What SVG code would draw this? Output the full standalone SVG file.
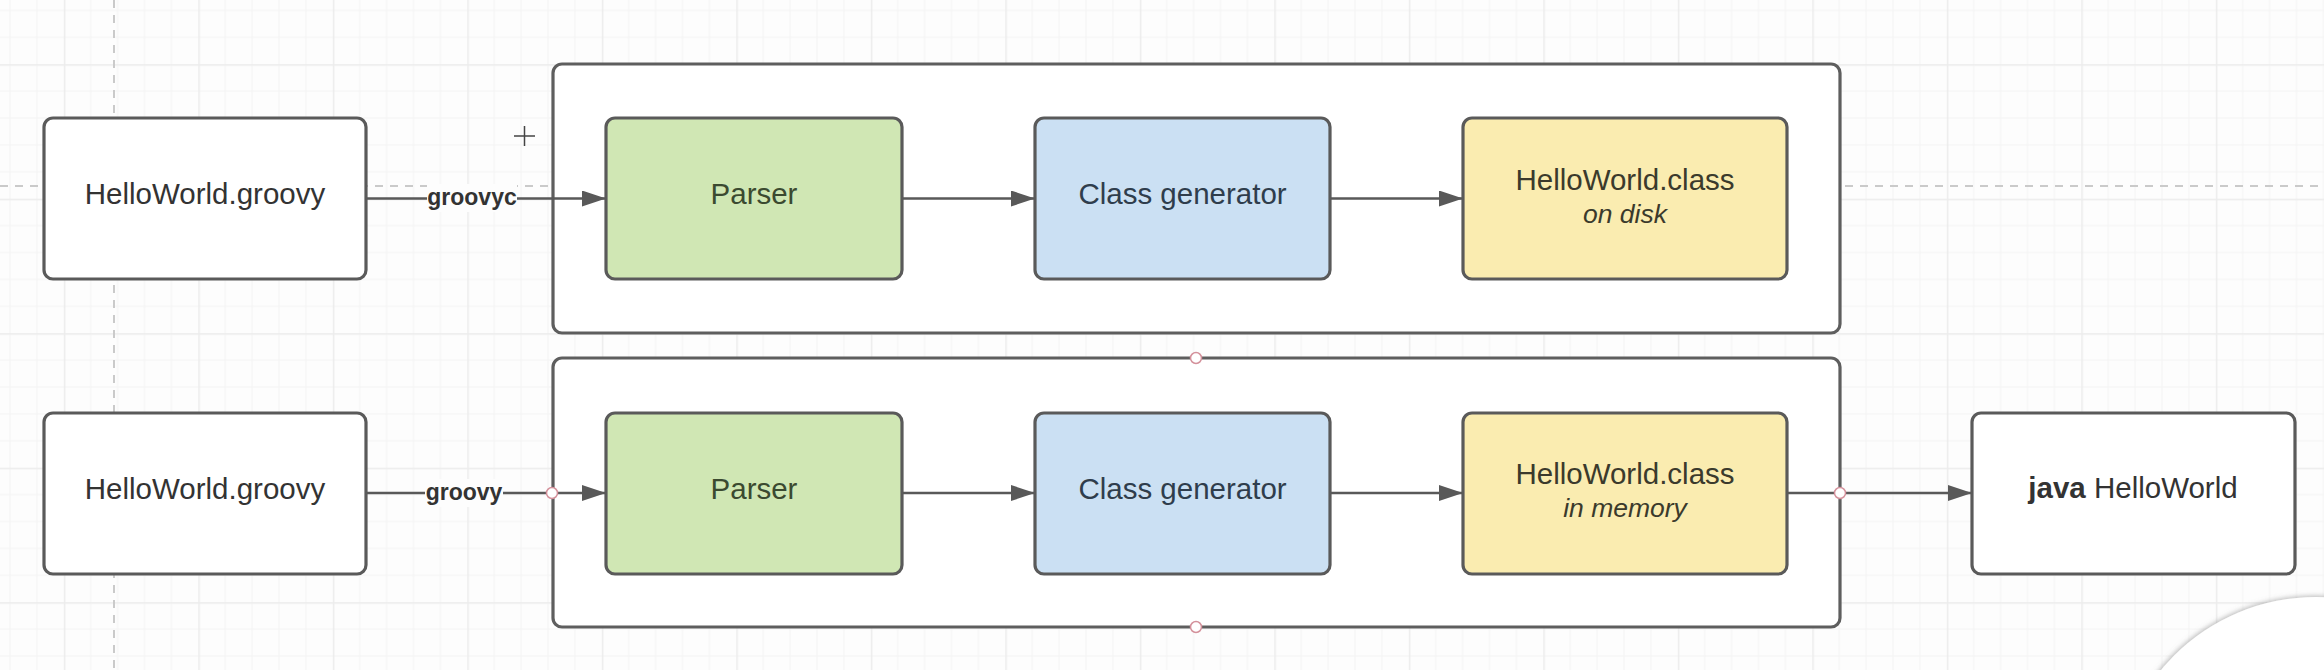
<svg xmlns="http://www.w3.org/2000/svg" width="2324" height="670" viewBox="0 0 2324 670">
  <style>
    .box { stroke: #5a5a5a; stroke-width: 3.2; }
    .plain { fill: #ffffff; }
    .green { fill: #d0e7b4; }
    .blue { fill: #cbe0f3; }
    .yellow { fill: #faecb0; }
    .container { fill: #ffffff; stroke: #5e5e5e; stroke-width: 3.2; }
    .t { font-family: "Liberation Sans", Arial, sans-serif; font-size: 29.5px; text-anchor: middle; fill: #333333; }
    .sub { font-family: "Liberation Sans", Arial, sans-serif; font-size: 26.5px; font-style: italic; text-anchor: middle; fill: #333333; }
    .lbl { font-family: "Liberation Sans", Arial, sans-serif; font-size: 23px; font-weight: bold; text-anchor: middle; fill: #333333; }
    .conn { stroke: #595959; stroke-width: 2.5; fill: none; }
    .guide { stroke: #cacaca; stroke-width: 2; stroke-dasharray: 8 7; fill: none; }
    .pt { fill: #ffffff; stroke: #d4919b; stroke-width: 1.5; }
  </style>
  <defs>
    <pattern id="grid" patternUnits="userSpaceOnUse" x="63.8" y="64.2" width="134.5" height="134.5">
      <path d="M26.9 0V134.5M53.8 0V134.5M80.7 0V134.5M107.6 0V134.5M0 26.9H134.5M0 53.8H134.5M0 80.7H134.5M0 107.6H134.5" stroke="#f4f4f4" stroke-width="1"/>
      <path d="M0.75 0V134.5M0 0.75H134.5" stroke="#ececec" stroke-width="1.5"/>
    </pattern>
    <marker id="arrow" markerUnits="userSpaceOnUse" markerWidth="25" markerHeight="17" refX="24" refY="8" orient="auto">
      <path d="M0 0L24 8L0 16Z" fill="#595959"/>
    </marker>
    <filter id="soft" x="-20%" y="-20%" width="140%" height="140%">
      <feDropShadow dx="-1" dy="-1" stdDeviation="2.5" flood-color="#808080" flood-opacity="0.55"/>
    </filter>
  </defs>

  <rect width="2324" height="670" fill="#fdfdfd"/>
  <rect width="2324" height="670" fill="url(#grid)"/>

  <g id="guides">
    <line class="guide" x1="0" y1="186" x2="2324" y2="186"/>
    <line class="guide" x1="114" y1="0" x2="114" y2="670"/>
  </g>

  <g id="container-groovyc">
    <rect class="container" x="553" y="64" width="1287" height="269" rx="9"/>
  </g>
  <g id="container-groovy">
    <rect class="container" x="553" y="358" width="1287" height="269" rx="9"/>
  </g>

  <g id="connectors">
    <line class="conn" x1="366" y1="198.5" x2="606" y2="198.5" marker-end="url(#arrow)"/>
    <line class="conn" x1="902" y1="198.5" x2="1035" y2="198.5" marker-end="url(#arrow)"/>
    <line class="conn" x1="1330" y1="198.5" x2="1463" y2="198.5" marker-end="url(#arrow)"/>
    <line class="conn" x1="366" y1="493" x2="606" y2="493" marker-end="url(#arrow)"/>
    <line class="conn" x1="902" y1="493" x2="1035" y2="493" marker-end="url(#arrow)"/>
    <line class="conn" x1="1330" y1="493" x2="1463" y2="493" marker-end="url(#arrow)"/>
    <line class="conn" x1="1787" y1="493" x2="1972" y2="493" marker-end="url(#arrow)"/>
    <rect x="427" y="184" width="90" height="28" fill="#fdfdfd"/>
    <text class="lbl" x="472" y="205">groovyc</text>
    <rect x="425" y="479" width="78" height="28" fill="#fdfdfd"/>
    <text class="lbl" x="464" y="500">groovy</text>
  </g>

  <g id="src-groovyc">
    <rect class="box plain" x="44" y="118" width="322" height="161" rx="9"/>
    <text class="t" x="205" y="204">HelloWorld.groovy</text>
  </g>
  <g id="parser-1">
    <rect class="box green" x="606" y="118" width="296" height="161" rx="9"/>
    <text class="t" x="754" y="204" style="fill:#3b4a30">Parser</text>
  </g>
  <g id="classgen-1">
    <rect class="box blue" x="1035" y="118" width="295" height="161" rx="9"/>
    <text class="t" x="1182.5" y="204" style="fill:#2f3d4c">Class generator</text>
  </g>
  <g id="class-disk">
    <rect class="box yellow" x="1463" y="118" width="324" height="161" rx="9"/>
    <text class="t" x="1625" y="190" style="fill:#3b3a2c">HelloWorld.class</text>
    <text class="sub" x="1625" y="223" style="fill:#3b3a2c">on disk</text>
  </g>

  <g id="src-groovy">
    <rect class="box plain" x="44" y="413" width="322" height="161" rx="9"/>
    <text class="t" x="205" y="499">HelloWorld.groovy</text>
  </g>
  <g id="parser-2">
    <rect class="box green" x="606" y="413" width="296" height="161" rx="9"/>
    <text class="t" x="754" y="499" style="fill:#3b4a30">Parser</text>
  </g>
  <g id="classgen-2">
    <rect class="box blue" x="1035" y="413" width="295" height="161" rx="9"/>
    <text class="t" x="1182.5" y="499" style="fill:#2f3d4c">Class generator</text>
  </g>
  <g id="class-memory">
    <rect class="box yellow" x="1463" y="413" width="324" height="161" rx="9"/>
    <text class="t" x="1625" y="484" style="fill:#3b3a2c">HelloWorld.class</text>
    <text class="sub" x="1625" y="517" style="fill:#3b3a2c">in memory</text>
  </g>
  <g id="java-run">
    <rect class="box plain" x="1972" y="413" width="323" height="161" rx="9"/>
    <text class="t" x="2133" y="498"><tspan font-weight="bold">java</tspan> HelloWorld</text>
  </g>

  <g id="handles">
    <circle class="pt" cx="1196" cy="358" r="5.5"/>
    <circle class="pt" cx="1196" cy="627" r="5.5"/>
    <circle class="pt" cx="552" cy="493" r="5.5"/>
    <circle class="pt" cx="1840" cy="493" r="5.5"/>
  </g>

  <g id="cursor">
    <path d="M514 136H535M524.5 126V146" stroke="#444444" stroke-width="1.5"/>
  </g>

  <g id="overlay">
    <circle cx="2316" cy="798" r="201" fill="#ffffff" filter="url(#soft)"/>
  </g>
</svg>
